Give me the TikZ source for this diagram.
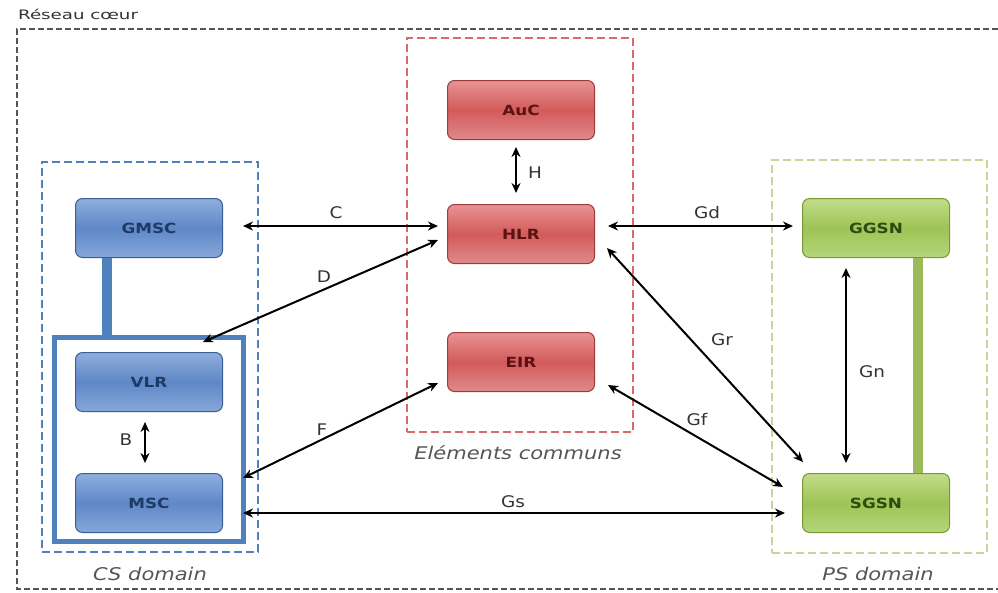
\documentclass[tikz,border=0pt]{standalone}
\usepackage{fontspec}
\setmainfont{DejaVu Sans}
\newfontfamily\lblfont[FakeStretch=1.15]{DejaVu Sans}
\newfontfamily\capfont[FakeStretch=1.2]{DejaVu Sans Oblique}
\newfontfamily\titfont[FakeStretch=1.4]{DejaVu Sans}
\newfontfamily\boxfont[FakeStretch=1.2]{DejaVu Sans Bold}
\usetikzlibrary{arrows.meta}
\definecolor{btop}{HTML}{8EAEDD}
\definecolor{bmid}{HTML}{5F88C7}
\definecolor{bbot}{HTML}{86A7D9}
\definecolor{bdraw}{HTML}{3A5E96}
\definecolor{btext}{HTML}{1E3A66}
\definecolor{rtop}{HTML}{E79494}
\definecolor{rmid}{HTML}{D35A5A}
\definecolor{rbot}{HTML}{E08A8A}
\definecolor{rdraw}{HTML}{9E3A3A}
\definecolor{rtext}{HTML}{5A1212}
\definecolor{gtop}{HTML}{C3DC8A}
\definecolor{gmid}{HTML}{9DC455}
\definecolor{gbot}{HTML}{B5D57A}
\definecolor{gdraw}{HTML}{789838}
\definecolor{gtext}{HTML}{2E4A10}
\definecolor{bline}{HTML}{4F81BD}
\definecolor{gline}{HTML}{9BBB59}
\definecolor{bframe}{HTML}{4F81BD}
\definecolor{rframe}{HTML}{D9696B}
\definecolor{gframe}{HTML}{C3D69B}
\definecolor{oframe}{HTML}{555555}
\definecolor{captext}{HTML}{555555}
\definecolor{lbltext}{HTML}{333333}
\tikzset{
  cell/.style={rounded corners=7pt, minimum width=147pt, minimum height=59pt,
    line width=1pt, inner sep=0pt, font=\boxfont\fontsize{14}{16}\selectfont},
  bluecell/.style={cell, draw=bdraw, top color=btop, bottom color=bbot, middle color=bmid, text=btext},
  redcell/.style={cell, draw=rdraw, top color=rtop, bottom color=rbot, middle color=rmid, text=rtext},
  greencell/.style={cell, draw=gdraw, top color=gtop, bottom color=gbot, middle color=gmid, text=gtext},
  frame/.style={draw, dash pattern=on 8pt off 4pt, line width=1.2pt, inner sep=0pt},
  arr/.style={line width=2pt, {Stealth[length=10pt,width=9pt]}-{Stealth[length=10pt,width=9pt]}},
  lbl/.style={font=\lblfont\fontsize{16}{18}\selectfont, text=lbltext, inner sep=0pt},
  domcap/.style={font=\capfont\fontsize{17.5}{19}\selectfont, text=captext, inner sep=0pt},
}
\begin{document}
\begin{tikzpicture}[x=1pt,y=-1pt]
\useasboundingbox (0,0) rectangle (998,592);
\fill[white] (0,0) rectangle (998,592);
% outer frame
\draw[oframe, dash pattern=on 6pt off 3pt, line width=1.2pt] (998,29) -- (17,29) -- (17,589) -- (998,589);
\node[anchor=west, font=\titfont\fontsize{13}{15}\selectfont, text=lbltext, inner sep=0pt] (title) at (18,14) {Réseau cœur};
% domain frames
\node[frame, draw=bframe, minimum width=216pt, minimum height=390pt] (csdom) at (150,357) {};
\node[frame, draw=rframe, minimum width=226pt, minimum height=394pt] (eldom) at (520,235) {};
\node[frame, draw=gframe, minimum width=215pt, minimum height=393pt] (psdom) at (879.5,356.5) {};
\node[domcap] (cscap) at (150,574) {CS domain};
\node[domcap] (elcap) at (518,453) {Eléments communs};
\node[domcap] (pscap) at (878,574) {PS domain};
% inner CS group
\node[draw=bline, line width=5pt, minimum width=189pt, minimum height=204pt, inner sep=0pt] (csgrp) at (148.5,439) {};
% nodes
\node[bluecell] (GMSC) at (149,228) {GMSC};
\node[bluecell] (VLR) at (149,382) {VLR};
\node[bluecell] (MSC) at (149,503) {MSC};
\node[redcell] (AuC) at (521,110) {AuC};
\node[redcell] (HLR) at (521,234) {HLR};
\node[redcell] (EIR) at (521,362) {EIR};
\node[greencell] (GGSN) at (876,228) {GGSN};
\node[greencell] (SGSN) at (876,503) {SGSN};
% thick bars
\draw[bline, line width=10pt] ([xshift=-42pt]GMSC.south) -- ([xshift=-42pt]GMSC.south |- csgrp.north);
\draw[gline, line width=10pt] ([xshift=42pt]GGSN.south) -- ([xshift=42pt]SGSN.north);
% arrow end coordinates
\coordinate (cA) at (243,226);
\coordinate (cB) at (438,226);
\coordinate (dA) at (438,240);
\coordinate (dB) at (203,342);
\coordinate (fA) at (438,383);
\coordinate (fB) at (243,478);
\coordinate (sA) at (243,513);
\coordinate (sB) at (785,513);
\coordinate (gdA) at (608,226);
\coordinate (gdB) at (793,226);
\coordinate (grA) at (607,248);
\coordinate (grB) at (803,462);
\coordinate (gfA) at (608,385);
\coordinate (gfB) at (783,487);
\coordinate (hA) at (516,147);
\coordinate (hB) at (516,193);
\coordinate (bA) at (145,422);
\coordinate (bB) at (145,463);
\coordinate (nA) at (846,268);
\coordinate (nB) at (846,463);
% arrows
\draw[arr] (cA) -- (cB);
\draw[arr] (dA) -- (dB);
\draw[arr] (fA) -- (fB);
\draw[arr] (sA) -- (sB);
\draw[arr] (gdA) -- (gdB);
\draw[arr] (grA) -- (grB);
\draw[arr] (gfA) -- (gfB);
\draw[arr] (hA) -- (hB);
\draw[arr] (bA) -- (bB);
\draw[arr] (nA) -- (nB);
% labels
\node[lbl] (lC) at (336,213) {C};
\node[lbl] (lD) at (324,277) {D};
\node[lbl] (lF) at (322,430) {F};
\node[lbl] (lGs) at (513,502) {Gs};
\node[lbl] (lGd) at (707,213) {Gd};
\node[lbl] (lGr) at (722,340) {Gr};
\node[lbl] (lGf) at (697,420) {Gf};
\node[lbl] (lH) at (535,173) {H};
\node[lbl] (lB) at (126,440) {B};
\node[lbl] (lGn) at (872,372) {Gn};
\end{tikzpicture}
\end{document}
